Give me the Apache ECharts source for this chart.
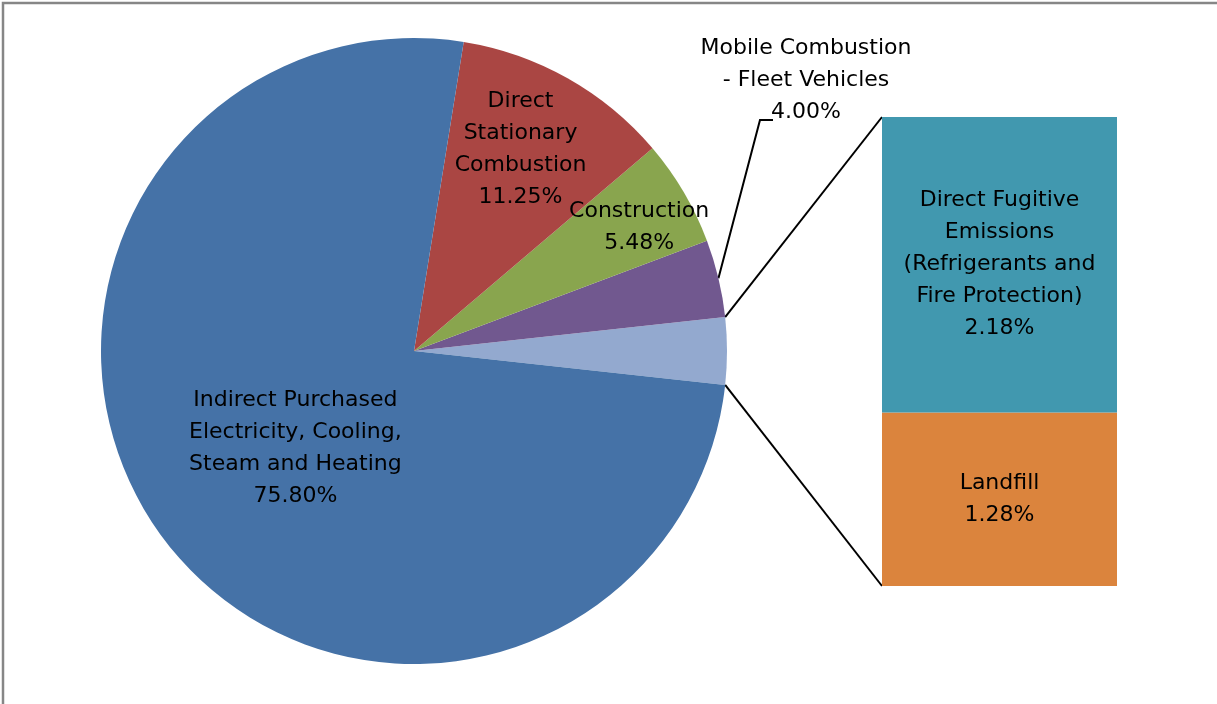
<!DOCTYPE html>
<html>
<head>
<meta charset="utf-8">
<script src="https://cdn.jsdelivr.net/npm/echarts@6/dist/echarts.min.js"></script>
<style>
  html, body { margin: 0; padding: 0; background: #fff; }
  #chart { width: 1217px; height: 704px; }
</style>
</head>
<body>
<div id="chart"></div>
<script>
// pie slices, counter-clockwise starting with the "Other" wedge on the right
const pieNames = [
  'Mobile Combustion\n- Fleet Vehicles',
  'Construction',
  'Direct\nStationary\nCombustion',
  'Indirect Purchased\nElectricity, Cooling,\nSteam and Heating'
];
const pieValues = [4.00, 5.48, 11.25, 75.80];
const pieColors = ['#71588F', '#89A54E', '#AA4643', '#4572A7'];

// breakdown of the "Other" wedge, drawn as the stacked bar
const barNames = ['Direct Fugitive\nEmissions\n(Refrigerants and\nFire Protection)', 'Landfill'];
const barValues = [2.18, 1.28];
const barColors = ['#4198AF', '#DB843D'];
const otherColor = '#93A9CF';

const CENTER = [414, 351];
const RADIUS = 313;
const BAR = { left: 882, top: 117, width: 235, height: 469 };
const FONT = { fontFamily: 'DejaVu Sans', fontSize: 22, lineHeight: 32, color: '#000' };
// inside label placement: [fraction of radius, angle nudge in degrees]
const labelPlace = [null, [0.82, -1.8], [0.73, 1.6], [0.49, 2]];
const MOBILE_LABEL = [806, 80];

const otherValue = barValues.reduce((a, b) => a + b, 0);
const total = otherValue + pieValues.reduce((a, b) => a + b, 0);
const startAngle = -otherValue / total * 180;

// mid angle of every slice (degrees, counter-clockwise from 3 o'clock)
const midAngles = [];
let acc = startAngle + otherValue / total * 360;
pieValues.forEach(v => {
  const span = v / total * 360;
  midAngles.push(acc + span / 2);
  acc += span;
});

function arcPoint(deg, f) {
  const a = deg * Math.PI / 180;
  return [CENTER[0] + RADIUS * f * Math.cos(a), CENTER[1] - RADIUS * f * Math.sin(a)];
}

const pieData = [{ name: 'Other', value: otherValue, itemStyle: { color: otherColor }, label: { show: false } }]
  .concat(pieNames.map((n, i) => ({
    name: n,
    value: pieValues[i],
    itemStyle: { color: pieColors[i] },
    label: i === 0 ? { position: 'outside' } : { position: 'inside' },
    labelLine: i === 0 ? { show: true } : { show: false }
  })));

const chart = echarts.init(document.getElementById('chart'));

const top1 = arcPoint(-startAngle, 1);
const bot1 = arcPoint(startAngle, 1);

chart.setOption({
  backgroundColor: '#fff',
  animation: false,
  grid: BAR,
  xAxis: { type: 'category', data: ['Other'], show: false },
  yAxis: { type: 'value', min: 0, max: otherValue, show: false },
  series: [
    {
      type: 'pie',
      center: CENTER,
      radius: RADIUS,
      startAngle: startAngle,
      clockwise: false,
      avoidLabelOverlap: false,
      silent: true,
      data: pieData,
      label: Object.assign({
        formatter: p => p.name + '\n' + p.value.toFixed(2) + '%'
      }, FONT),
      labelLine: { lineStyle: { color: '#000', width: 2 } },
      labelLayout: function (params) {
        const i = params.dataIndex - 1;
        if (i < 0) return {};
        if (i === 0) {
          const p = arcPoint(midAngles[0], 1);
          const bottom = MOBILE_LABEL[1] + params.labelRect.height / 2;
          const lx = MOBILE_LABEL[0] - 33;
          return {
            x: MOBILE_LABEL[0], y: MOBILE_LABEL[1], align: 'center', verticalAlign: 'middle',
            labelLinePoints: [p, [lx - 13, bottom - 8], [lx, bottom - 8]]
          };
        }
        const p = arcPoint(midAngles[i] + labelPlace[i][1], labelPlace[i][0]);
        return { x: p[0], y: p[1], align: 'center', verticalAlign: 'middle' };
      }
    }
  ].concat(barNames.map((n, i) => ({
    type: 'bar',
    name: n,
    stack: 'other',
    data: [barValues[i]],
    barWidth: '100%',
    itemStyle: { color: barColors[i] },
    label: Object.assign({
      show: true,
      position: 'inside',
      formatter: p => p.seriesName + '\n' + p.value.toFixed(2) + '%'
    }, FONT)
  })).reverse()),
  graphic: [
    {
      type: 'line', silent: true,
      shape: { x1: top1[0], y1: top1[1], x2: BAR.left, y2: BAR.top },
      style: { stroke: '#000', lineWidth: 2 }
    },
    {
      type: 'line', silent: true,
      shape: { x1: bot1[0], y1: bot1[1], x2: BAR.left, y2: BAR.top + BAR.height },
      style: { stroke: '#000', lineWidth: 2 }
    },
    {
      type: 'rect', silent: true,
      shape: { x: 3, y: 3, width: 1240, height: 730 },
      style: { fill: 'none', stroke: '#868686', lineWidth: 2.5 }
    }
  ]
});
</script>
</body>
</html>
